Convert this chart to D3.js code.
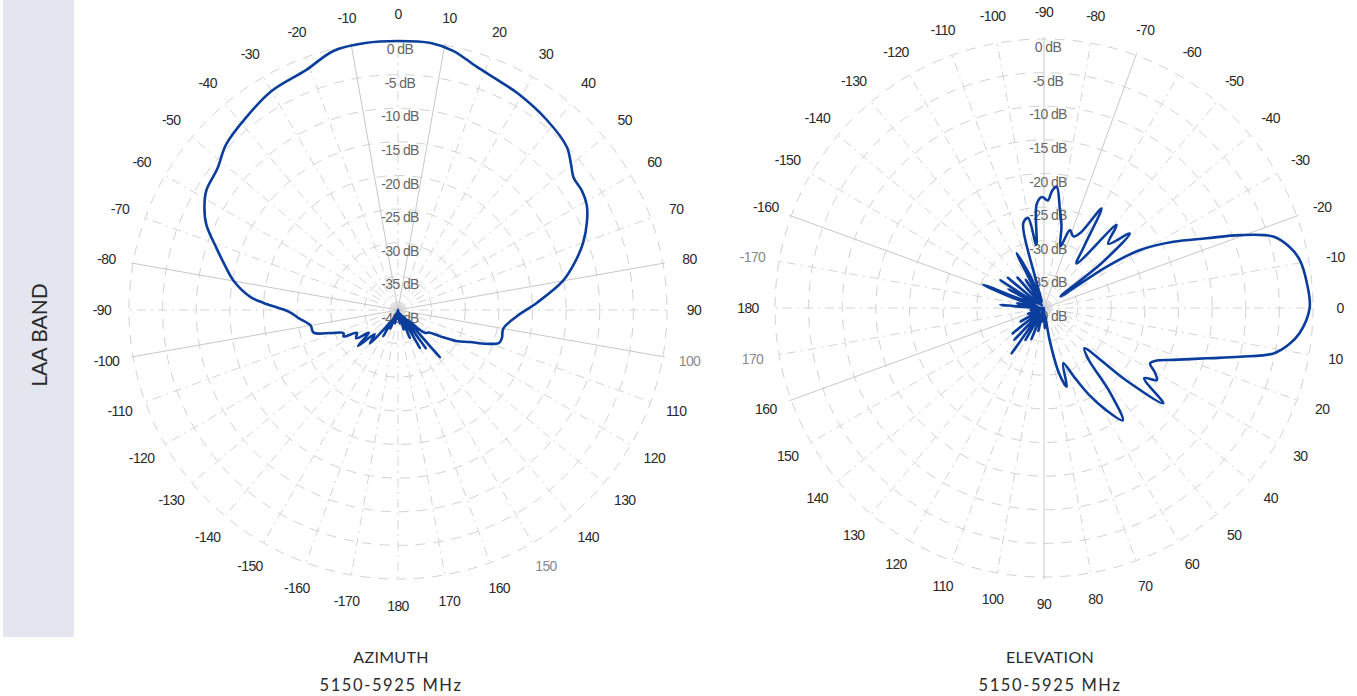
<!DOCTYPE html>
<html>
<head>
<meta charset="utf-8">
<script src="https://cdn.jsdelivr.net/npm/d3@7"></script>
<style>
  html, body { margin: 0; padding: 0; background: #fff; }
  svg { display: block; }
</style>
</head>
<body>
<svg id="chart" width="1357" height="696"></svg>
<script>
// ---------------- DATA ----------------
const ringLevels = [0, -5, -10, -15, -20, -25, -30, -35, -40];
const spokeAngles = d3.range(-170, 190, 10);

// Azimuth pattern: angle (deg, 0 = top, clockwise) and gain (dB)
const azAngles = [-180,-177,-172,-167,-162,-158,-154,-151,-148,-144,-140,-136,-132,-128,-124,-119,-116,-113,-109,-105,-100,-95,-91,-87,-85,-80,-75,-71,-66,-62,-58,-52,-46,-38,-30,-21,-14,-7,0,7,12,18,24,29,38,46,50,53,57,61,65,70,75,80,87,93,100,105,108,111,114,118,122,126,130,133,136,138.5,141,144,147,150,153,157,160,164,168,172,176];
const azGain   = [-40,-38.5,-40,-38,-40,-37,-39.5,-35.5,-38,-36.5,-33.5,-35,-32,-34.5,-32.5,-33,-31,-31.2,-29.5,-27,-26.8,-25.3,-23.8,-20,-18,-15.2,-13.2,-11.4,-8.8,-7.4,-6.4,-5.9,-4.5,-3.5,-2.4,-1.8,-0.3,0,0,0,-0.6,-2,-2.8,-3.2,-4.1,-5.1,-6.4,-7.3,-7.4,-7.9,-9,-10.7,-12.8,-15.1,-19.3,-22.3,-24.1,-24,-24.2,-26,-28.3,-30.2,-32.6,-34.3,-34.7,-36,-38,-30.6,-39,-33,-39.5,-33.5,-39,-35.5,-39.5,-37,-40,-38,-40];

// Elevation pattern: angle (deg, 0 = right, clockwise, -90 = top) and gain (dB)
const elAngles = [-180,-176,-173,-170,-166,-162,-159,-156,-152,-150,-147.5,-144,-140,-135,-131,-127,-123,-119,-116.5,-113,-110,-106,-103.7,-100,-97,-94,-91,-88,-86,-84,-81,-78,-75,-71.6,-67.6,-64,-60,-57,-53.8,-48.8,-45,-41,-38,-35.2,-33.4,-31.1,-27.1,-23.2,-20.4,-17.3,-14,-10.6,-5,0,5.6,8.5,11.2,14,17.2,21.9,25,27.6,30,32.6,35,38.6,41.5,45,49,52,55,59,62.6,66,70.8,73.9,77,80,84,88,92,96,100,104,108,112,116,120,123,125.5,129,133,137,141,145,150,155,160,166,172,177];
const elGain   = [-39,-33.5,-39.5,-36,-39,-35,-30.3,-38.5,-34,-38,-32.3,-39,-33,-39.5,-34,-39.5,-35,-38,-30.9,-35,-39,-35,-27,-26.4,-30.5,-24.5,-23.5,-24,-22.5,-21.9,-25,-27.5,-30.5,-27.8,-28.5,-27.5,-22.9,-29,-31.8,-23.6,-26.5,-23.1,-29,-37,-28.8,-23.3,-18.4,-13.7,-8.9,-4.3,-2.4,-1.3,-0.7,-0.5,-1.8,-3.2,-5.2,-10,-14.7,-19.3,-21.5,-22.2,-21,-20.1,-21.8,-17.3,-24,-31.5,-30,-24,-19.6,-22.5,-25.5,-28.5,-31.3,-27.8,-30,-35,-39,-37,-40,-38,-40,-36.5,-39.5,-35,-39.5,-34.5,-39,-31.7,-38,-33.5,-39,-34,-39.5,-36,-40,-37.5,-40,-38,-40];

const azTitle = ["AZIMUTH", "5150-5925 MHz"];
const elTitle = ["ELEVATION", "5150-5925 MHz"];
const sideLabel = "LAA BAND";

// ---------------- DRAW ----------------
const svg = d3.select("#chart");
const R0 = 269;      // 0 dB radius
const labelR = 296;  // angle label radius
const r = d3.scaleLinear().domain([-40, 0]).range([0, R0]).clamp(true);

// side band
svg.append("rect").attr("x", 3).attr("y", 0).attr("width", 71).attr("height", 637)
  .attr("fill", "#e3e5ef");
svg.append("text")
  .attr("transform", "translate(47,335) rotate(-90)")
  .attr("text-anchor", "middle")
  .attr("font-family", "Lato, 'Open Sans', sans-serif")
  .attr("font-size", 21)
  .attr("fill", "#2a2a2a")
  .text(sideLabel);

function drawPolar(cfg) {
  const g = svg.append("g").attr("transform", `translate(${cfg.cx},${cfg.cy})`);
  const toXY = (deg, rad) => {
    const a = cfg.toScreen(deg) * Math.PI / 180; // screen angle clockwise from east
    return [rad * Math.cos(a), rad * Math.sin(a)];
  };

  // rings
  ringLevels.filter(d => d > -40).forEach(lv => {
    g.append("circle").attr("r", r(lv))
      .attr("fill", "none")
      .attr("stroke", "#d2d2d2")
      .attr("stroke-width", 1)
      .attr("stroke-dasharray", "10,8");
  });

  // spokes
  spokeAngles.forEach(a => {
    const [x, y] = toXY(a, R0 + 2);
    const solid = cfg.solidSpokes.includes(a);
    g.append("line").attr("x1", 0).attr("y1", 0).attr("x2", x).attr("y2", y)
      .attr("stroke", solid ? "#c8c8c8" : "#d4d4d4")
      .attr("stroke-width", 1)
      .attr("stroke-dasharray", solid ? null : "9,5,2,5");
  });

  // dB labels
  ringLevels.forEach(lv => {
    g.append("text")
      .attr("x", cfg.dbDx).attr("y", -r(lv) + 13)
      .attr("text-anchor", "middle")
      .attr("font-family", "'Liberation Sans', Arial, sans-serif")
      .attr("font-size", 14)
      .attr("letter-spacing", -0.6)
      .attr("fill", "#666")
      .text(lv + " dB");
  });

  // angle labels
  spokeAngles.forEach(a => {
    const [x, y] = toXY(a, labelR);
    g.append("text")
      .attr("x", x).attr("y", y)
      .attr("dy", "0.35em")
      .attr("text-anchor", "middle")
      .attr("font-family", "'Liberation Sans', Arial, sans-serif")
      .attr("font-size", 14)
      .attr("letter-spacing", -0.6)
      .attr("fill", cfg.lightLabels.includes(a) ? "#8a8a8a" : "#2a2a2a")
      .text(a);
  });

  // pattern curve
  const pts = cfg.angles.map((a, i) => toXY(a, r(cfg.gain[i])));
  const line = d3.line().curve(d3.curveCatmullRomClosed.alpha(0.5));
  g.append("path").attr("d", line(pts))
    .attr("fill", "none")
    .attr("stroke", "#0a3d9c")
    .attr("stroke-width", 2.6)
    .attr("stroke-linejoin", "round");

  // titles
  cfg.title.forEach((t, i) => {
    svg.append("text")
      .attr("x", cfg.titleX).attr("y", 663 + i * 28)
      .attr("text-anchor", "middle")
      .attr("font-family", "Lato, 'Open Sans', sans-serif")
      .attr("font-size", i === 0 ? 16 : 16.5)
      .attr("letter-spacing", i === 0 ? 0.3 : 1.6)
      .attr("fill", "#2a2a2a")
      .text(t);
  });
}

drawPolar({
  cx: 398, cy: 310,
  toScreen: a => a - 90,
  angles: azAngles, gain: azGain,
  solidSpokes: [-10, 10, 80, 100, -80, -100],
  lightLabels: [100, 150],
  dbDx: 2,
  title: azTitle, titleX: 391
});

drawPolar({
  cx: 1044, cy: 308,
  toScreen: a => a,
  angles: elAngles, gain: elGain,
  solidSpokes: [-90, 90, -70, -160, 160, -20],
  lightLabels: [-170, 170],
  dbDx: 4,
  title: elTitle, titleX: 1050
});
</script>
</body>
</html>
